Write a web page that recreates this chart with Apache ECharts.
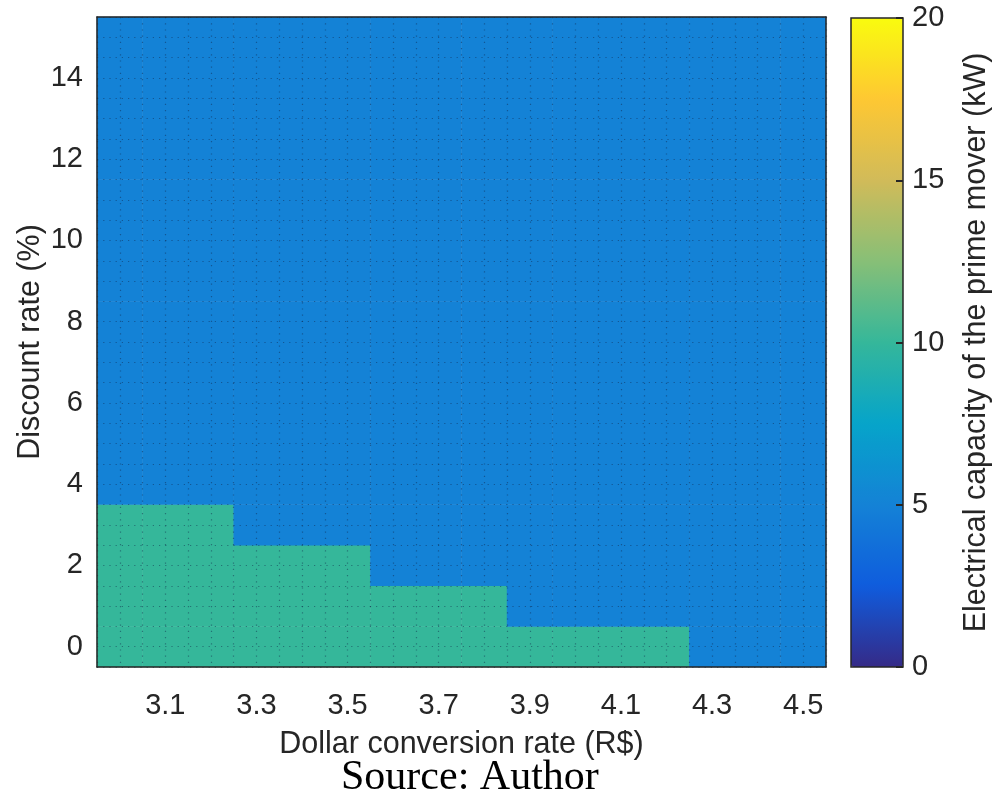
<!DOCTYPE html>
<html>
<head>
<meta charset="utf-8">
<script src="https://cdn.jsdelivr.net/npm/echarts@6/dist/echarts.min.js"></script>
<style>
  html, body { margin: 0; padding: 0; background: #fff; }
  #chart { width: 995px; height: 794px; }
</style>
</head>
<body>
<div id="chart"></div>
<script>
// Dollar conversion rate (R$) — one column per value
const dollarRates = ['3.0', '3.1', '3.2', '3.3', '3.4', '3.5', '3.6', '3.7',
                     '3.8', '3.9', '4.0', '4.1', '4.2', '4.3', '4.4', '4.5'];
// Discount rate (%) — one row per value
const discountRates = ['0', '1', '2', '3', '4', '5', '6', '7',
                       '8', '9', '10', '11', '12', '13', '14', '15'];

// Electrical capacity of the prime mover (kW), one row per discount rate
const capacity0  = [10, 10, 10, 10, 10, 10, 10, 10, 10, 10, 10, 10, 10, 5, 5, 5];
const capacity1  = [10, 10, 10, 10, 10, 10, 10, 10, 10, 5, 5, 5, 5, 5, 5, 5];
const capacity2  = [10, 10, 10, 10, 10, 10, 5, 5, 5, 5, 5, 5, 5, 5, 5, 5];
const capacity3  = [10, 10, 10, 5, 5, 5, 5, 5, 5, 5, 5, 5, 5, 5, 5, 5];
const capacity4  = [5, 5, 5, 5, 5, 5, 5, 5, 5, 5, 5, 5, 5, 5, 5, 5];
const capacity5  = [5, 5, 5, 5, 5, 5, 5, 5, 5, 5, 5, 5, 5, 5, 5, 5];
const capacity6  = [5, 5, 5, 5, 5, 5, 5, 5, 5, 5, 5, 5, 5, 5, 5, 5];
const capacity7  = [5, 5, 5, 5, 5, 5, 5, 5, 5, 5, 5, 5, 5, 5, 5, 5];
const capacity8  = [5, 5, 5, 5, 5, 5, 5, 5, 5, 5, 5, 5, 5, 5, 5, 5];
const capacity9  = [5, 5, 5, 5, 5, 5, 5, 5, 5, 5, 5, 5, 5, 5, 5, 5];
const capacity10 = [5, 5, 5, 5, 5, 5, 5, 5, 5, 5, 5, 5, 5, 5, 5, 5];
const capacity11 = [5, 5, 5, 5, 5, 5, 5, 5, 5, 5, 5, 5, 5, 5, 5, 5];
const capacity12 = [5, 5, 5, 5, 5, 5, 5, 5, 5, 5, 5, 5, 5, 5, 5, 5];
const capacity13 = [5, 5, 5, 5, 5, 5, 5, 5, 5, 5, 5, 5, 5, 5, 5, 5];
const capacity14 = [5, 5, 5, 5, 5, 5, 5, 5, 5, 5, 5, 5, 5, 5, 5, 5];
const capacity15 = [5, 5, 5, 5, 5, 5, 5, 5, 5, 5, 5, 5, 5, 5, 5, 5];
const capacityRows = [capacity0, capacity1, capacity2, capacity3, capacity4, capacity5,
  capacity6, capacity7, capacity8, capacity9, capacity10, capacity11, capacity12,
  capacity13, capacity14, capacity15];

// Colour bar range
const capacityMin = 0;
const capacityMax = 20;
const capacityStep = 5;

// Parula-like colormap stops (evenly spaced from 0 to 20 kW)
const parula = ['#352a87', '#0f5cdd', '#1482d6', '#06a4ca', '#35b79a',
                '#87bf77', '#d1bb59', '#fec832', '#f9fb0e'];

const cells = [];
capacityRows.forEach((row, yi) => {
  row.forEach((v, xi) => cells.push([xi, yi, v]));
});

// half-cell guide lines (cell edges and centres) for the dotted mesh
const halfX = Array.from({ length: dollarRates.length * 2 }, (_, i) => 'hx' + i);
const halfY = Array.from({ length: discountRates.length * 2 }, (_, i) => 'hy' + i);

const ink = '#262626';
const sans = 'Liberation Sans, Arial, sans-serif';
const tickSize = 29;
const titleSize = 30.5;

const oddIdx = (i) => i % 2 === 1;
const evenIdx = (i) => i % 2 === 0;

const meshLine = {
  show: true,
  lineStyle: { color: 'rgba(15,35,70,0.45)', width: 1.2, type: [1.2, 5] }
};

const chart = echarts.init(document.getElementById('chart'), null, { renderer: 'canvas' });

chart.setOption({
  animation: false,
  backgroundColor: '#ffffff',
  title: {
    text: 'Source: Author',
    left: 336,
    top: 752,
    textStyle: { fontFamily: 'Liberation Serif, Times New Roman, serif', fontWeight: 'normal',
                 fontSize: 42, color: '#000' }
  },
  grid: [
    { left: 97, right: 169, top: 17, bottom: 127, show: false },
    { left: 851, right: 92, top: 18, bottom: 127, show: true, z: 6,
      borderColor: ink, borderWidth: 1.5, backgroundColor: 'transparent' }
  ],
  xAxis: [
    {
      type: 'category', gridIndex: 0, data: dollarRates, position: 'bottom',
      name: 'Dollar conversion rate (R$)', nameLocation: 'middle', nameGap: 62,
      nameMoveOverlap: false,
      nameTextStyle: { fontFamily: sans, fontSize: titleSize, color: ink },
      axisLine: { lineStyle: { color: ink, width: 1.5 } },
      axisTick: { inside: true, length: 8, alignWithLabel: true, interval: oddIdx,
                  lineStyle: { color: ink, width: 2 } },
      axisLabel: { interval: oddIdx, margin: 24, fontFamily: sans, fontSize: tickSize, color: ink },
      splitLine: { show: false }, z: 8
    },
    {
      type: 'category', gridIndex: 0, data: dollarRates, position: 'top',
      axisLine: { lineStyle: { color: ink, width: 1.5 } },
      axisTick: { inside: true, length: 8, alignWithLabel: true, interval: oddIdx,
                  lineStyle: { color: ink, width: 2 } },
      axisLabel: { show: false }, splitLine: { show: false }, z: 8
    },
    {
      type: 'category', gridIndex: 0, data: halfX, position: 'bottom', offset: 0,
      axisLine: { show: false }, axisTick: { show: false }, axisLabel: { show: false },
      splitLine: Object.assign({ interval: 0 }, meshLine), z: 5
    },
    { type: 'value', gridIndex: 1, show: false, min: 0, max: 1 }
  ],
  yAxis: [
    {
      type: 'category', gridIndex: 0, data: discountRates, position: 'left',
      name: 'Discount rate (%)', nameLocation: 'middle', nameGap: 51,
      nameMoveOverlap: false,
      nameTextStyle: { fontFamily: sans, fontSize: titleSize, color: ink },
      axisLine: { lineStyle: { color: ink, width: 1.5 } },
      axisTick: { inside: true, length: 8, alignWithLabel: true, interval: evenIdx,
                  lineStyle: { color: ink, width: 2 } },
      axisLabel: { interval: evenIdx, margin: 14, fontFamily: sans, fontSize: tickSize, color: ink },
      splitLine: { show: false }, z: 8
    },
    {
      type: 'category', gridIndex: 0, data: discountRates, position: 'right',
      axisLine: { lineStyle: { color: ink, width: 1.5 } },
      axisTick: { inside: true, length: 8, alignWithLabel: true, interval: evenIdx,
                  lineStyle: { color: ink, width: 2 } },
      axisLabel: { show: false }, splitLine: { show: false }, z: 8
    },
    {
      type: 'category', gridIndex: 0, data: halfY, position: 'left', offset: 0,
      axisLine: { show: false }, axisTick: { show: false }, axisLabel: { show: false },
      splitLine: Object.assign({ interval: 0 }, meshLine), z: 5
    },
    {
      type: 'value', gridIndex: 1, position: 'right',
      min: capacityMin, max: capacityMax, interval: capacityStep,
      name: 'Electrical capacity of the prime mover (kW)', nameLocation: 'middle',
      nameGap: 58, nameRotate: 90, nameMoveOverlap: false,
      nameTextStyle: { fontFamily: sans, fontSize: titleSize, color: ink },
      axisLine: { show: false, onZero: false },
      axisTick: { show: true, inside: true, length: 7, lineStyle: { color: ink, width: 2 } },
      axisLabel: { margin: 9, fontFamily: sans, fontSize: tickSize, color: ink },
      splitLine: { show: false }, z: 8
    }
  ],
  visualMap: {
    type: 'continuous',
    min: capacityMin, max: capacityMax,
    seriesIndex: 0,
    calculable: false,
    orient: 'vertical',
    left: 836, top: 3,
    itemWidth: 52, itemHeight: 649,
    text: null,
    showLabel: false,
    inRange: { color: parula }
  },
  series: [
    {
      type: 'heatmap',
      xAxisIndex: 0, yAxisIndex: 0,
      data: cells,
      itemStyle: { borderWidth: 0 },
      emphasis: { disabled: true },
      z: 2
    }
  ]
});
</script>
</body>
</html>
